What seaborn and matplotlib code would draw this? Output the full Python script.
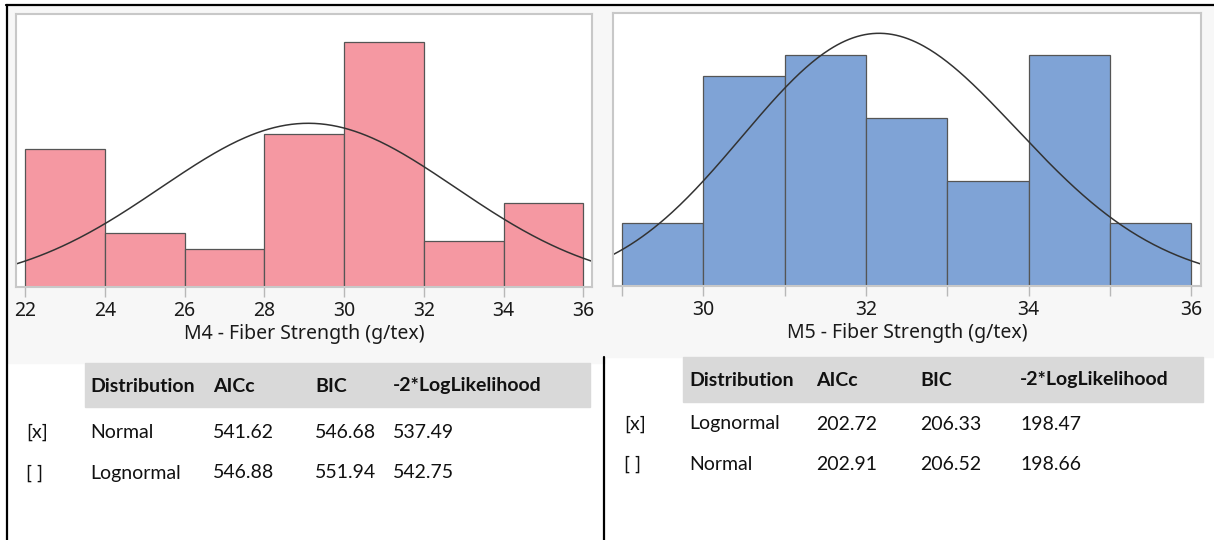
import numpy as np
import seaborn as sns
import matplotlib.pyplot as plt
from matplotlib.patches import Rectangle
from matplotlib.lines import Line2D

# Histogram bins
m4_edges = [22, 24, 26, 28, 30, 32, 34, 36]
m4_counts = [18, 7, 5, 20, 32, 6, 11]
m4_ticklabels = ["22", "24", "26", "28", "30", "32", "34", "36"]
m4_mean, m4_sd = 29.1, 3.7          # fitted normal

m5_edges = [29, 30, 31, 32, 33, 34, 35, 36]
m5_counts = [3, 10, 11, 8, 5, 11, 3]
m5_ticklabels = ["", "30", "", "32", "", "34", "", "36"]
m5_meanlog, m5_sdlog = np.log(32.25), 0.0525   # fitted lognormal

# Fit comparison tables
table_cols = ["Distribution", "AICc", "BIC", "-2*LogLikelihood"]
m4_marks = ["[x]", "[ ]"]
m4_dists = ["Normal", "Lognormal"]
m4_aicc = ["541.62", "546.88"]
m4_bic = ["546.68", "551.94"]
m4_ll = ["537.49", "542.75"]

m5_marks = ["[x]", "[ ]"]
m5_dists = ["Lognormal", "Normal"]
m5_aicc = ["202.72", "202.91"]
m5_bic = ["206.33", "206.52"]
m5_ll = ["198.47", "198.66"]

W, H = 1214, 540
sns.set_style("white")
plt.rcParams['font.family'] = ['Noto Sans', 'DejaVu Sans']

fig = plt.figure(figsize=(W / 100, H / 100), dpi=100)


def fx(x):
    return x / W


def fy(y):
    return 1 - y / H


# panel backgrounds
fig.patches.append(Rectangle((fx(8), fy(363)), (605 - 8) / W, (363 - 6) / H,
                             transform=fig.transFigure, color="#f7f7f7", zorder=-2))
fig.patches.append(Rectangle((fx(605), fy(357)), (W - 605) / W, (357 - 6) / H,
                             transform=fig.transFigure, color="#f7f7f7", zorder=-2))

# black frame lines
for xs, ys in [([6, W], [5, 5]), ([7, 7], [5, H]), ([604, 604], [357, H])]:
    fig.lines.append(Line2D([fx(v) for v in xs], [fy(v) for v in ys],
                            transform=fig.transFigure, color="black", linewidth=1.6))


def hist_panel(rect, edges, counts, color, ticklabels, xlim, ylim, curve, xlabel):
    ax = fig.add_axes([fx(rect[0]), fy(rect[3]), (rect[2] - rect[0]) / W,
                       (rect[3] - rect[1]) / H])
    ax.set_zorder(3)
    centers = [(a + b) / 2 for a, b in zip(edges[:-1], edges[1:])]
    sns.histplot(x=centers, weights=counts, bins=edges, ax=ax, color=color,
                 alpha=1, edgecolor="#555555", linewidth=0.9)
    xs = np.linspace(xlim[0], xlim[1], 300)
    bw = edges[1] - edges[0]
    sns.lineplot(x=xs, y=curve(xs) * sum(counts) * bw, ax=ax,
                 color="#333333", linewidth=1.1)
    ax.set_xlim(*xlim)
    ax.set_ylim(*ylim)
    ax.set_yticks([])
    ax.set_ylabel("")
    ax.set_xticks(edges)
    ax.set_xticklabels(ticklabels)
    ax.tick_params(axis="x", bottom=True, length=7, width=1, color="#b8b8b8",
                   pad=3, labelsize=14, labelcolor="#1a1a1a")
    ax.set_xlabel(xlabel, fontsize=14, color="#1a1a1a", labelpad=2)
    for s in ax.spines.values():
        s.set_color("#c8c8c8")
        s.set_linewidth(1.5)
    ax.set_facecolor("white")
    return ax


def normal_pdf(x):
    return np.exp(-(x - m4_mean) ** 2 / (2 * m4_sd ** 2)) / (m4_sd * np.sqrt(2 * np.pi))


def lognormal_pdf(x):
    return np.exp(-(np.log(x) - m5_meanlog) ** 2 / (2 * m5_sdlog ** 2)) / (x * m5_sdlog * np.sqrt(2 * np.pi))


hist_panel((16, 14, 592, 287), m4_edges, m4_counts, "#f598a2", m4_ticklabels,
           (21.77, 36.22), (0, 35.6), normal_pdf, "M4 - Fiber Strength (g/tex)")
hist_panel((613, 13, 1201, 286), m5_edges, m5_counts, "#7fa3d6", m5_ticklabels,
           (28.89, 36.12), (0, 13.0), lognormal_pdf, "M5 - Fiber Strength (g/tex)")


def draw_table(band, head_y, row_ys, mark_x, col_xs, marks, dists, aicc, bic, ll):
    x0, y0, x1, y1 = band
    fig.patches.append(Rectangle((fx(x0), fy(y1)), (x1 - x0) / W, (y1 - y0) / H,
                                 transform=fig.transFigure, color="#d9d9d9", zorder=-1))
    for x, name in zip(col_xs, table_cols):
        fig.text(fx(x), fy(head_y), name, fontsize=14, fontweight="bold",
                 family="Lato", va="center", ha="left", color="#111111")
    for i, y in enumerate(row_ys):
        vals = [dists[i], aicc[i], bic[i], ll[i]]
        fig.text(fx(mark_x), fy(y), marks[i], fontsize=14, family="Lato",
                 va="center", ha="left", color="#111111")
        for x, v in zip(col_xs, vals):
            fig.text(fx(x), fy(y), v, fontsize=14, family="Lato",
                     va="center", ha="left", color="#111111")


draw_table((85, 363, 590, 407), 386, [432, 473], 26, [90, 213, 315, 393],
           m4_marks, m4_dists, m4_aicc, m4_bic, m4_ll)
draw_table((683, 357, 1203, 402), 380, [424, 464], 624, [689, 816, 920, 1020],
           m5_marks, m5_dists, m5_aicc, m5_bic, m5_ll)

fig.savefig("out.png", dpi=100)
